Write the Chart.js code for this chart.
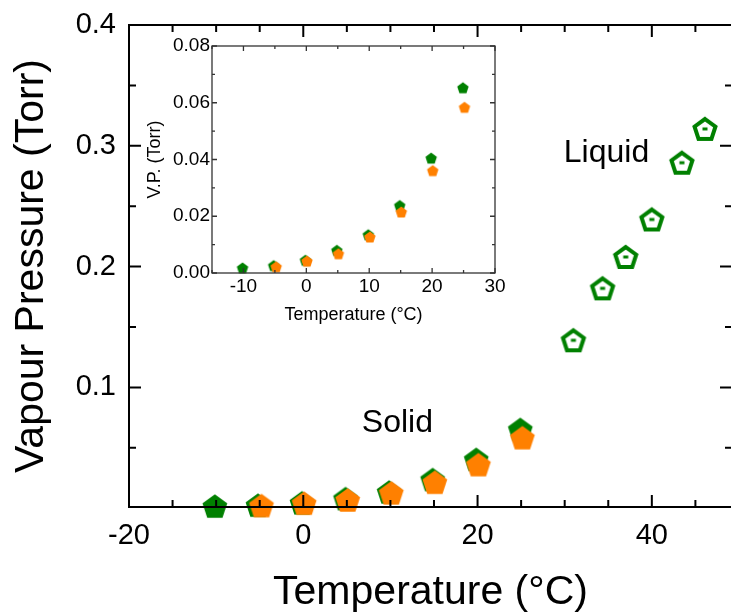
<!DOCTYPE html>
<html><head><meta charset="utf-8">
<script src="https://cdn.jsdelivr.net/npm/chart.js@4.4.0/dist/chart.umd.min.js"></script>
<style>
html,body{margin:0;padding:0;background:#fff;overflow:hidden;width:731px;height:613px;}
#wrap{position:relative;width:731px;height:613px;overflow:hidden;}
#mainBox{position:absolute;left:0;top:0;width:734px;height:613px;}
#insetBox{position:absolute;left:140px;top:28px;width:370px;height:305px;}
canvas{display:block;}
</style></head><body>
<div id="wrap">
  <div id="mainBox"><canvas id="main" width="734" height="613" style="width:734px;height:613px"></canvas></div>
  <div id="insetBox"><canvas id="inset" width="370" height="305" style="width:370px;height:305px"></canvas></div>
</div>
<script>
// ---- data ----
const solidTempGreen = [-10.15, -5.2, -0.15, 4.85, 9.85, 14.85, 19.85, 24.9];
const solidVPGreen   = [0.0018, 0.0026, 0.0045, 0.0080, 0.0135, 0.0238, 0.0405, 0.0653];
const solidTempOrange = [-4.8, 0.1, 5.1, 10.1, 15.1, 20.1, 25.15];
const solidVPOrange   = [0.0022, 0.0042, 0.0068, 0.0127, 0.0215, 0.0361, 0.0584];
const liquidTemp = [31.0, 34.35, 37.0, 40.0, 43.45, 46.1];
const liquidVP   = [0.139, 0.182, 0.208, 0.239, 0.286, 0.314];
const mainXTicks = [-20, 0, 20, 40];
const mainYTicks = [0.1, 0.2, 0.3, 0.4];
const insetXTicks = [-10, 0, 10, 20, 30];
const insetYTicks = [0, 0.02, 0.04, 0.06, 0.08];
const phaseLabels = ['Liquid', 'Solid'];
const phaseLabelTemp = [34.8, 10.8];
const phaseLabelVP = [0.294, 0.0704];

const GREEN = 'rgb(0,128,0)';
const ORANGE = 'rgb(255,128,0)';
const FONT = "'Liberation Sans', Arial, sans-serif";

function pentagon(R, fill, stroke, lw, dot) {
  lw = lw || 0;
  const size = Math.ceil(2 * R + lw + 4);
  const c = document.createElement('canvas');
  c.width = size; c.height = size;
  const g = c.getContext('2d');
  const cx = size / 2;
  const cos36 = Math.cos(Math.PI / 5);
  const cy = size / 2 + R * (1 - cos36) / 2;
  g.beginPath();
  for (let k = 0; k < 5; k++) {
    const a = -Math.PI / 2 + k * 2 * Math.PI / 5;
    const px = cx + R * Math.cos(a), py = cy + R * Math.sin(a);
    if (k === 0) g.moveTo(px, py); else g.lineTo(px, py);
  }
  g.closePath();
  if (fill) { g.fillStyle = fill; g.fill(); }
  if (stroke) { g.strokeStyle = stroke; g.lineWidth = lw; g.lineJoin = 'miter'; g.stroke(); }
  if (dot) { g.fillStyle = dot; g.fillRect(cx - 2.5, size / 2 - 1.5, 5, 3); }
  return c;
}

function toPts(xs, ys) { return xs.map((x, i) => ({ x: x, y: ys[i] })); }

function framePlugin(o) {
  return {
    id: 'frame',
    afterDatasetsDraw(chart) {
      const { ctx, chartArea: a, scales: { x, y } } = chart;
      ctx.save();
      ctx.strokeStyle = o.color; ctx.lineWidth = o.lw; ctx.lineCap = 'butt';
      ctx.strokeRect(a.left, a.top, a.right - a.left, a.bottom - a.top);
      ctx.beginPath();
      const isMajor = (v, arr) => arr.some(t => Math.abs(t - v) < 1e-9);
      for (let i = 0; ; i++) {
        const v = o.xStart + i * o.xMinor;
        if (v > x.max + 1e-9) break;
        const p = x.getPixelForValue(v);
        const len = isMajor(v, o.xMajor) ? o.major : o.minor;
        ctx.moveTo(p, a.bottom); ctx.lineTo(p, a.bottom - len);
        ctx.moveTo(p, a.top); ctx.lineTo(p, a.top + len);
      }
      for (let i = 0; ; i++) {
        const v = o.yStart + i * o.yMinor;
        if (v > y.max + 1e-9) break;
        const p = y.getPixelForValue(v);
        const len = isMajor(v, o.yMajor) ? o.major : o.minor;
        ctx.moveTo(a.left, p); ctx.lineTo(a.left + len, p);
        ctx.moveTo(a.right, p); ctx.lineTo(a.right - len, p);
      }
      ctx.stroke();
      ctx.restore();
    }
  };
}

const labelPlugin = {
  id: 'phaseLabels',
  afterDatasetsDraw(chart) {
    const { ctx, scales: { x, y } } = chart;
    ctx.save();
    ctx.fillStyle = '#000';
    ctx.font = '32px ' + FONT;
    ctx.textAlign = 'center'; ctx.textBaseline = 'middle';
    phaseLabels.forEach((t, i) => {
      ctx.fillText(t, x.getPixelForValue(phaseLabelTemp[i]), y.getPixelForValue(phaseLabelVP[i]));
    });
    ctx.restore();
  }
};

function fitX(h) { return s => { s.height = h; s.paddingLeft = 0; s.paddingRight = 0; }; }
function fitY(w) { return s => { s.width = w; s.paddingTop = 0; s.paddingBottom = 0; }; }

// ---- main chart ----
const bigGreen = pentagon(13, GREEN);
const bigOrange = pentagon(13, ORANGE);
const hollow = pentagon(11, null, GREEN, 4, GREEN);

new Chart(document.getElementById('main'), {
  type: 'scatter',
  data: {
    datasets: [
      { data: toPts(solidTempGreen, solidVPGreen), pointStyle: bigGreen, clip: false, order: 3 },
      { data: toPts(solidTempOrange, solidVPOrange), pointStyle: bigOrange, clip: false, order: 2 },
      { data: toPts(liquidTemp, liquidVP), pointStyle: hollow, clip: false, order: 1 }
    ]
  },
  options: {
    responsive: false, animation: false, events: [],
    layout: { autoPadding: false, padding: { left: 0, top: 25, right: 2, bottom: 0 } },
    plugins: { legend: { display: false }, tooltip: { enabled: false } },
    scales: {
      x: {
        type: 'linear', min: -20, max: 49.2,
        grid: { display: false, drawTicks: false },
        border: { display: false },
        afterBuildTicks: s => { s.ticks = mainXTicks.map(v => ({ value: v })); },
        afterFit: fitX(106),
        ticks: { color: '#000', padding: 14, maxRotation: 0, autoSkip: false,
          font: { family: FONT, size: 29, lineHeight: 1 } },
        title: { display: true, text: 'Temperature (°C)', color: '#000',
          padding: { top: 0, bottom: 0 }, font: { family: FONT, size: 41, lineHeight: 1 } }
      },
      y: {
        type: 'linear', min: 0.001, max: 0.4,
        grid: { display: false, drawTicks: false },
        border: { display: false },
        afterBuildTicks: s => { s.ticks = mainYTicks.map(v => ({ value: v })); },
        afterFit: fitY(129),
        ticks: { color: '#000', padding: 13, autoSkip: false,
          callback: v => v.toFixed(1),
          font: { family: FONT, size: 29, lineHeight: 1 } },
        title: { display: true, text: 'Vapour Pressure (Torr)', color: '#000',
          padding: { top: 11, bottom: 0 }, font: { family: FONT, size: 41, lineHeight: 1 } }
      }
    }
  },
  plugins: [framePlugin({ color: '#000', lw: 2, major: 12, minor: 7,
    xStart: -20, xMinor: 5, xMajor: mainXTicks,
    yStart: 0.05, yMinor: 0.05, yMajor: mainYTicks }), labelPlugin]
});

// ---- inset chart ----
const smallGreen = pentagon(6, GREEN);
const smallOrange = pentagon(6, ORANGE);

new Chart(document.getElementById('inset'), {
  type: 'scatter',
  data: {
    datasets: [
      { data: toPts(solidTempGreen, solidVPGreen), pointStyle: smallGreen, clip: false, order: 2 },
      { data: toPts(solidTempOrange, solidVPOrange), pointStyle: smallOrange, clip: false, order: 1 }
    ]
  },
  options: {
    responsive: false, animation: false, events: [],
    layout: { autoPadding: false, padding: { left: 0, top: 18, right: 15, bottom: 0 } },
    plugins: { legend: { display: false }, tooltip: { enabled: false } },
    scales: {
      x: {
        type: 'linear', min: -15, max: 30,
        grid: { display: false, drawTicks: false },
        border: { display: false },
        afterBuildTicks: s => { s.ticks = insetXTicks.map(v => ({ value: v })); },
        afterFit: fitX(60),
        ticks: { color: '#000', padding: 4, maxRotation: 0, autoSkip: false,
          font: { family: FONT, size: 19, lineHeight: 1 } },
        title: { display: true, text: 'Temperature (°C)', color: '#000',
          padding: { top: 0, bottom: 9 }, font: { family: FONT, size: 18, lineHeight: 1 } }
      },
      y: {
        type: 'linear', min: 0, max: 0.08,
        grid: { display: false, drawTicks: false },
        border: { display: false },
        afterBuildTicks: s => { s.ticks = insetYTicks.map(v => ({ value: v })); },
        afterFit: fitY(72),
        ticks: { color: '#000', padding: 2, autoSkip: false,
          callback: v => v.toFixed(2),
          font: { family: FONT, size: 19, lineHeight: 1 } },
        title: { display: true, text: 'V.P. (Torr)', color: '#000',
          padding: { top: 6, bottom: 0 }, font: { family: FONT, size: 18, lineHeight: 1 } }
      }
    }
  },
  plugins: [framePlugin({ color: '#333', lw: 1.3, major: 5, minor: 3,
    xStart: -15, xMinor: 5, xMajor: insetXTicks,
    yStart: 0, yMinor: 0.01, yMajor: insetYTicks })]
});
</script>
</body></html>
